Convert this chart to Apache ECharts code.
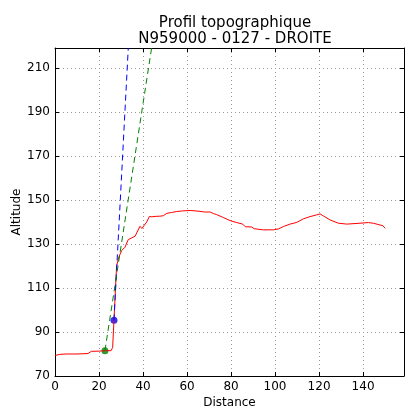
<!DOCTYPE html>
<html>
<head>
<meta charset="utf-8">
<script src="https://cdn.jsdelivr.net/npm/echarts@6/dist/echarts.min.js"></script>
<style>
  html, body { margin: 0; padding: 0; background: #fff; }
  #chart { width: 405px; height: 409px; }
</style>
</head>
<body>
<div id="chart"></div>
<script>
// profil (distance / altitude)
const distances = [0, 2, 5, 10, 15, 16.5, 20, 23, 25.5, 26.2, 26.8, 27.5, 28, 29, 30.3, 31.8, 33.3, 35, 36.4, 38.6, 39.5, 40.2, 41.7, 42.9, 44, 45.5, 47.7, 49.2, 50.8, 53, 55.3, 58, 61.4, 65.9, 68, 70.5, 72, 73.5, 76.5, 79.5, 82.6, 85.3, 86.5, 89.4, 90.5, 94.7, 99.2, 101.5, 103.8, 106.8, 109.9, 112.9, 115.9, 118.9, 120.5, 122, 125, 128.8, 132.6, 138.6, 142.4, 143.2, 144.7, 147.7, 149, 150]
const altitudes = [79.3, 79.8, 80, 80, 80.2, 81.2, 81.3, 81.5, 81.5, 83, 95.3, 110, 120, 124, 127, 128.5, 132, 132.8, 133.5, 138, 137, 137.5, 140, 142.5, 142.3, 142.5, 142.6, 142.8, 143.9, 144.3, 144.7, 145, 145.2, 144.8, 144.5, 144.5, 143.8, 143.3, 142, 140.6, 139.7, 139, 137.8, 137.7, 136.9, 136.4, 136.4, 136.8, 137.9, 139, 139.8, 141.4, 142.4, 143.2, 143.6, 142.7, 140.9, 139.4, 139, 139.4, 139.7, 140, 139.4, 138.6, 138.3, 137.1]

// droites de pente
const blueX = [26.8, 33.3]
const blueY = [95.3, 219]
const greenX = [22.7, 43.9]
const greenY = [81.5, 219]

// points
const bluePoint = [26.8, 95.3]
const greenPoint = [22.7, 81.5]

const xMin = 0, xMax = 158.6, xStep = 20
const yMin = 70, yMax = 219, yStep = 20

function zip(xs, ys) {
  let out = []
  for (let i = 0; i < xs.length; i++) out.push([xs[i], ys[i]])
  return out
}

const font = 'DejaVu Sans'
const tickStyle = { show: true, inside: true, length: 4, lineStyle: { color: '#000', width: 1 } }

function xAx(pos, labels) {
  return {
    type: 'value', position: pos, min: xMin, max: xMax, interval: xStep,
    name: labels ? 'Distance' : '', nameLocation: 'middle', nameGap: 21, nameMoveOverlap: false,
    nameTextStyle: { fontFamily: font, fontSize: 12, color: '#000' },
    axisLine: { show: true, onZero: false, lineStyle: { color: '#000', width: 1 } },
    axisTick: tickStyle,
    axisLabel: {
      show: labels, margin: 5, fontFamily: font, fontSize: 12, color: '#000',
      formatter: v => (v % xStep === 0 ? String(v) : '')
    },
    splitLine: { show: labels, lineStyle: { color: '#999', type: [1, 3], width: 1 } }
  }
}

function yAx(pos, labels) {
  return {
    type: 'value', position: pos, min: yMin, max: yMax, interval: yStep,
    name: labels ? 'Altitude' : '', nameLocation: 'middle', nameGap: 32, nameMoveOverlap: false,
    nameTextStyle: { fontFamily: font, fontSize: 12, color: '#000' },
    axisLine: { show: true, onZero: false, lineStyle: { color: '#000', width: 1 } },
    axisTick: tickStyle,
    axisLabel: {
      show: labels, margin: 5, fontFamily: font, fontSize: 12, color: '#000',
      formatter: v => ((v - yMin) % yStep === 0 ? String(v) : '')
    },
    splitLine: { show: labels, lineStyle: { color: '#999', type: [1, 3], width: 1 } }
  }
}

var myChart = echarts.init(document.getElementById('chart'), null, { renderer: 'canvas' })
var option = {
  animation: false,
  backgroundColor: '#fff',
  title: {
    text: 'Profil topographique\nN959000 - 0127 - DROITE',
    left: 230, top: 10, textAlign: 'center',
    textStyle: { fontFamily: font, fontSize: 15, fontWeight: 'normal', color: '#000', lineHeight: 16 }
  },
  grid: { left: 55, right: 1, top: 48, bottom: 33, containLabel: false, outerBoundsMode: 'none' },
  xAxis: [xAx('bottom', true), xAx('top', false)],
  yAxis: [yAx('left', true), yAx('right', false)],
  series: [
    {
      type: 'line', data: zip(distances, altitudes), showSymbol: false,
      lineStyle: { color: '#ff0000', width: 1 }, clip: true
    },
    {
      type: 'line', data: zip(blueX, blueY), showSymbol: false,
      lineStyle: { color: '#0000ff', width: 1, type: [6, 4] }, clip: true
    },
    {
      type: 'line', data: zip(greenX, greenY), showSymbol: false,
      lineStyle: { color: '#008000', width: 1, type: [6, 4] }, clip: true
    },
    {
      type: 'scatter', data: [bluePoint], symbolSize: 7,
      itemStyle: { color: '#0000ff' }
    },
    {
      type: 'scatter', data: [greenPoint], symbolSize: 7,
      itemStyle: { color: '#008000' }
    }
  ]
}
myChart.setOption(option)
</script>
</body>
</html>
